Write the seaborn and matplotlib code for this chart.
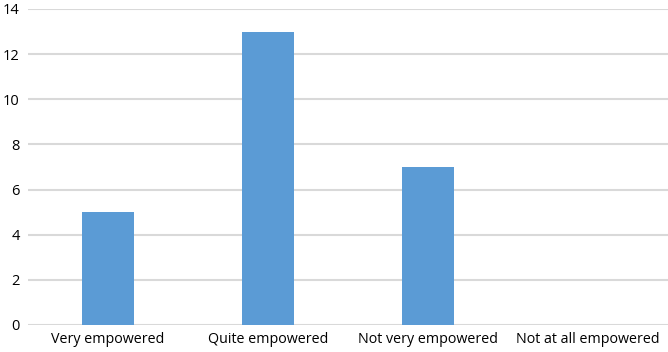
import matplotlib
matplotlib.use("Agg")
import matplotlib.pyplot as plt
import seaborn as sns
import pandas as pd

categories = ["Very empowered", "Quite empowered", "Not very empowered", "Not at all empowered"]
values = [5, 13, 7, 0]
yticks = [0, 2, 4, 6, 8, 10, 12, 14]

sns.set_theme(style="white")
plt.rcParams['font.family'] = ['Open Sans', 'DejaVu Sans']

df = pd.DataFrame({"category": categories, "value": values})

fig = plt.figure(figsize=(6.68, 3.52), dpi=100)
ax = fig.add_axes([28/668, 27/352, 640/668, 316/352])
sns.barplot(data=df, x="category", y="value", color="#5B9BD5", width=0.32,
            saturation=1, ax=ax, zorder=3, linewidth=0)
ax.set_ylim(0, 14)
ax.set_xlim(-0.5, 3.5)
ax.set_yticks(yticks)
ax.set_yticklabels([str(t) for t in yticks], fontsize=10.5, color="#000000")
ax.tick_params(axis='x', labelsize=10.3, colors="#000000", length=0, pad=5)
ax.tick_params(axis='y', length=0, pad=6)
ax.yaxis.grid(True, color="#D9D9D9", linewidth=1.5, zorder=0)
ax.xaxis.grid(False)
for s in ax.spines.values():
    s.set_visible(False)
ax.set_xlabel("")
ax.set_ylabel("")
fig.savefig("out.png", dpi=100)
